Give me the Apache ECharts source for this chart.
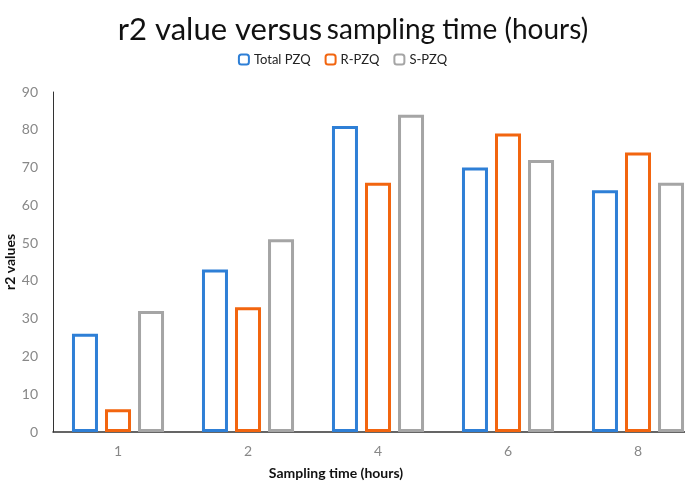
<!DOCTYPE html>
<html><head><meta charset="utf-8">
<script src="https://cdn.jsdelivr.net/npm/echarts@6/dist/echarts.min.js"></script>
<style>html,body{margin:0;padding:0;background:#fff}#c{width:685px;height:487px}</style>
</head><body><div id="c"></div>
<script>
var categories = ['1', '2', '4', '6', '8'];
var totalPZQ = [26, 43, 81, 70, 64];
var rPZQ = [6, 33, 66, 79, 74];
var sPZQ = [32, 51, 84, 72, 66];
var yTicks = {min: 0, max: 90, interval: 10};

var FONT = 'Lato';
var chart = echarts.init(document.getElementById('c'));
function bar(name, data, color) {
  return {
    name: name, type: 'bar', data: data, barWidth: 26, barGap: '27%',
    itemStyle: {color: 'rgba(255,255,255,0)', borderColor: color, borderWidth: 3},
    emphasis: {disabled: true}
  };
}
chart.setOption({
  animation: false,
  textStyle: {fontFamily: FONT},
  title: {
    text: '{a|r2 value versus} {b|sampling time (hours)}',
    left: 348, textAlign: 'center', top: 9,
    textStyle: {fontWeight: 'normal', rich: {
      a: {fontSize: 31, fontFamily: FONT, color: '#111', fontWeight: 'normal'},
      b: {fontSize: 28, fontFamily: FONT, color: '#111', fontWeight: 'normal'}
    }}
  },
  legend: {
    top: 48, left: 'center', itemWidth: 10, itemHeight: 10, itemGap: 14,
    textStyle: {fontSize: 13, color: '#222', fontFamily: FONT},
    data: ['Total PZQ', 'R-PZQ', 'S-PZQ']
  },
  grid: {left: 53, top: 92, width: 650, height: 340, containLabel: false, outerBoundsMode: 'none'},
  xAxis: {
    type: 'category', data: categories,
    axisLine: {lineStyle: {color: '#333', width: 1.5}},
    axisTick: {show: false},
    axisLabel: {color: '#888', fontSize: 14, margin: 12, fontFamily: FONT},
    name: 'Sampling time (hours)', nameLocation: 'middle', nameGap: 34, nameMoveOverlap: false,
    nameTextStyle: {fontWeight: 'bold', fontSize: 14, color: '#111', padding: [0, 84, 0, 0], fontFamily: FONT}
  },
  yAxis: {
    type: 'value', min: yTicks.min, max: yTicks.max, interval: yTicks.interval,
    axisLine: {show: true, lineStyle: {color: '#333', width: 1}},
    axisTick: {show: false},
    splitLine: {show: false},
    axisLabel: {color: '#888', fontSize: 14, margin: 15, fontFamily: FONT},
    name: 'r2 values', nameLocation: 'middle', nameGap: 36, nameMoveOverlap: false,
    nameTextStyle: {fontWeight: 'bold', fontSize: 14, color: '#111', fontFamily: FONT}
  },
  series: [
    bar('Total PZQ', totalPZQ, '#2E7FD6'),
    bar('R-PZQ', rPZQ, '#F2650F'),
    bar('S-PZQ', sPZQ, '#A5A5A5')
  ]
});
</script></body></html>
